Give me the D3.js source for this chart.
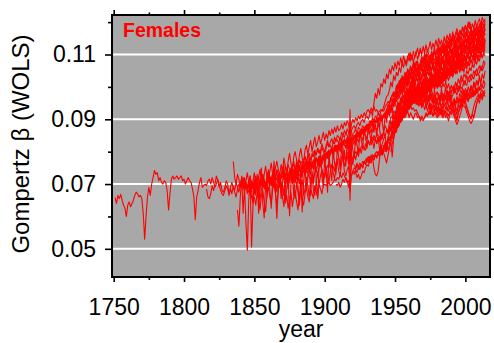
<!DOCTYPE html>
<html>
<head>
<meta charset="utf-8">
<script src="https://cdn.jsdelivr.net/npm/d3@7"></script>
<style>
  body { margin: 0; background: #fff; }
  svg { display: block; font-family: "Liberation Sans", Arial, sans-serif; }
</style>
</head>
<body>
<div id="chart"></div>
<script>
// Gompertz beta x 1000, one value per year starting at the given year
const sweden = [
  65.8, 64.0, 66.5, 65.5, 66.8, 65.0, 63.5, 62.5, 60.0, 63.5,
  64.5, 63.0, 64.0, 65.0, 66.5, 67.5, 67.0, 66.0, 66.5, 65.5,
  61.0, 53.0, 60.0, 66.0, 69.0, 66.5, 70.0, 72.0, 74.2, 73.0,
  73.5, 71.0, 72.0, 70.5, 70.0, 71.0, 70.5, 68.0, 62.0, 67.0,
  71.5, 72.5, 71.5, 72.0, 72.5, 71.5, 72.0, 72.5, 71.0, 71.5,
  70.0, 71.0, 72.0, 71.0, 70.5, 68.5, 66.0, 59.0, 66.0, 68.0,
  70.5, 72.0, 69.0, 69.5, 70.0, 69.5, 71.0, 71.5, 70.0, 72.0,
  70.5, 69.0, 70.0, 71.5, 70.0, 68.0, 67.0, 66.5, 68.0, 69.5,
  68.5, 67.0, 69.0, 70.5, 69.0, 67.5, 66.0, 68.5, 70.0, 69.0,
  70.5, 72.0, 70.0, 68.5, 69.5, 71.0, 70.0, 68.5, 69.0, 71.5,
  70.0, 71.5, 72.5, 69.0, 70.5, 71.0, 68.5, 70.0, 72.0, 71.0,
  72.5, 71.0, 73.0, 74.0, 72.0, 73.5, 71.5, 70.0, 72.5, 74.0,
  73.0, 74.5, 75.0, 73.5, 72.0, 74.0, 75.5, 76.0, 74.5, 75.0,
  76.5, 75.0, 77.0, 76.5, 77.5, 78.5, 77.0, 78.0, 79.5, 77.5,
  78.5, 80.0, 79.5, 79.0, 81.0, 80.5, 79.5, 81.5, 80.0, 79.0,
  81.0, 82.5, 81.5, 82.0, 80.5, 83.0, 82.5, 84.0, 83.5, 82.5,
  84.5, 83.5, 85.0, 84.5, 86.0, 85.0, 84.0, 79.5, 84.0, 85.5,
  86.0, 87.0, 85.5, 87.5, 87.0, 86.5, 88.0, 87.5, 87.0, 88.5,
  88.0, 89.5, 89.0, 90.5, 89.5, 91.0, 90.5, 92.0, 91.0, 92.5,
  93.0, 92.5, 94.0, 94.5, 95.5, 95.0, 96.5, 97.5, 97.0, 98.5,
  98.0, 101.0, 99.5, 102.5, 100.5, 103.0, 101.5, 104.5, 102.0, 105.0,
  103.5, 106.0, 104.0, 107.5, 105.0, 104.5, 107.0, 105.5, 108.5, 106.0,
  107.5, 109.5, 106.5, 108.0, 110.0, 107.5, 109.0, 111.5, 108.5, 110.0,
  112.0, 109.5, 111.0, 113.0, 110.5, 112.5, 111.0, 114.0, 112.0, 113.5,
  115.0, 112.5, 114.5, 113.0, 116.0, 114.0, 115.5, 113.5, 116.5, 115.0,
  117.0, 114.5, 116.0, 118.0, 115.5, 117.5, 116.0, 119.0, 117.0, 118.5,
  120.0, 117.5, 119.5, 118.5
];
const france = [
  68.5, 66.0, 65.5, 67.0, 69.5, 68.0, 70.0, 72.5, 71.0, 69.0,
  70.5, 68.0, 67.5, 69.0, 71.0, 70.0, 66.5, 68.5, 67.0, 69.5,
  68.0, 70.5, 69.0, 67.5, 70.0, 71.5, 69.5, 68.0, 70.5, 69.0,
  67.5, 68.5, 66.0, 64.5, 69.0, 70.5, 69.5, 67.0, 65.5, 68.0,
  70.0, 71.5, 69.0, 68.5, 71.0, 70.0, 72.0, 70.5, 69.5, 68.0,
  70.5, 71.0, 69.0, 70.5, 66.0, 63.0, 69.5, 71.5, 72.5, 71.0,
  72.0, 73.5, 72.5, 71.0, 70.0, 72.5, 73.0, 72.0, 73.5, 74.0,
  73.0, 74.5, 73.5, 72.0, 71.5, 72.5, 71.0, 73.5, 74.5, 73.0,
  75.0, 76.0, 74.5, 73.0, 72.0, 74.5, 75.5, 76.5, 75.0, 76.0,
  75.5, 74.0, 76.5, 77.5, 78.0, 75.5, 78.5, 78.0, 74.0, 72.5,
  74.5, 75.5, 71.0, 76.0, 78.5, 79.0, 80.0, 79.5, 81.0, 80.5,
  81.5, 82.0, 81.0, 80.5, 82.5, 83.0, 82.5, 84.0, 84.5, 83.5,
  84.0, 85.5, 85.0, 84.5, 81.0, 82.5, 84.0, 85.0, 80.5, 84.5,
  86.0, 89.5, 88.0, 91.5, 90.5, 93.0, 92.0, 95.0, 93.5, 96.5,
  95.0, 98.0, 96.5, 99.5, 98.0, 101.0, 99.0, 102.5, 100.5, 103.0,
  101.5, 104.5, 102.0, 103.5, 105.5, 103.0, 106.0, 104.5, 103.5, 106.5,
  105.0, 107.5, 106.0, 104.5, 107.0, 108.5, 106.5, 108.0, 109.5, 107.0,
  109.0, 110.5, 108.0, 110.0, 111.5, 109.5, 111.0, 112.5, 110.0, 112.0,
  113.5, 111.0, 112.5, 114.0, 112.0, 113.5, 115.0, 112.5, 114.5, 116.0,
  113.5, 115.5, 117.0, 114.5, 116.0, 117.5, 115.0, 116.5, 118.0
];
const denmark = [
  77.0, 72.0, 70.0, 73.0, 71.5, 69.0, 72.5, 70.0, 68.0, 71.0,
  73.5, 70.5, 68.5, 71.0, 69.5, 67.0, 70.0, 72.0, 66.0, 69.5,
  71.0, 73.0, 70.5, 68.0, 72.5, 74.0, 71.5, 70.0, 73.5, 69.0,
  72.0, 74.5, 73.0, 70.5, 72.5, 75.0, 73.5, 71.0, 74.0, 76.0,
  74.5, 73.0, 75.5, 77.0, 74.0, 76.5, 75.0, 77.5, 76.0, 74.5,
  77.0, 78.5, 76.5, 79.0, 78.0, 76.0, 79.5, 78.5, 80.5, 79.0,
  81.0, 79.5, 80.0, 82.5, 81.0, 80.0, 82.0, 83.5, 81.5, 83.0,
  84.0, 82.5, 84.5, 83.0, 85.0, 84.5, 83.5, 86.0, 85.0, 86.5,
  85.5, 87.0, 86.0, 82.0, 86.5, 87.5, 88.0, 87.0, 88.5, 89.0,
  88.0, 89.5, 90.0, 89.0, 90.5, 91.0, 90.0, 91.5, 92.5, 91.0,
  95.0, 98.0, 96.5, 99.5, 97.5, 101.0, 100.0, 102.5, 101.0, 104.0,
  102.5, 105.5, 104.0, 106.5, 105.0, 107.5, 105.5, 108.0, 106.5, 109.0,
  107.0, 109.5, 108.0, 106.5, 109.0, 110.5, 108.0, 110.0, 107.5, 109.5,
  111.0, 108.5, 110.0, 112.0, 109.5, 108.0, 110.5, 109.0, 111.5, 110.0,
  108.5, 111.0, 109.5, 112.0, 110.0, 111.5, 113.0, 110.5, 112.5, 111.0,
  113.5, 112.0, 114.5, 113.0, 115.0, 113.5, 116.0, 114.0, 115.5, 117.0,
  115.0, 117.5, 116.0, 118.5, 117.0, 119.0, 117.5, 120.0, 118.0, 119.5
];
const iceland = [
  62.0, 57.0, 66.0, 72.0, 61.0, 69.5, 58.0, 49.6, 65.0, 72.5,
  50.6, 63.0, 70.0, 66.5, 73.0, 61.0, 68.5, 75.0, 64.0, 59.5,
  70.5, 66.0, 74.5, 68.0, 62.5, 71.0, 77.0, 67.5, 59.4, 69.0,
  73.5, 65.5, 70.0, 76.0, 64.5, 68.5, 72.5, 60.2, 70.5, 74.5,
  66.5, 71.5, 77.5, 69.0, 63.5, 73.0, 61.4, 70.5, 75.5, 68.0,
  72.5, 78.0, 66.5, 74.0, 70.0, 79.5, 71.0, 65.5, 75.5, 80.0,
  72.5, 69.0, 77.5, 74.0, 67.5, 79.0, 75.0, 71.0, 80.5, 76.5,
  73.0, 81.5, 78.0, 74.5, 82.0, 77.5, 80.5, 75.5, 83.5, 79.0,
  76.0, 84.0, 80.5, 78.0, 85.5, 82.0, 79.5, 86.0, 83.5, 81.0,
  87.5, 84.0, 82.5, 88.0, 85.5, 83.0, 89.5, 86.0, 88.5, 84.5,
  90.0, 87.5, 91.5, 88.5, 86.0, 92.0, 89.0, 93.5, 91.0, 94.5,
  92.0, 96.5, 94.0, 98.5, 96.0, 99.5, 97.5, 101.0, 98.5, 102.5,
  100.5, 103.5, 101.0, 104.5, 102.0, 100.5, 105.0, 103.0, 106.5, 102.5,
  105.5, 107.0, 103.5, 106.0, 108.5, 104.5, 107.5, 105.0, 109.0, 106.5,
  104.0, 108.5, 107.0, 110.0, 106.0, 109.5, 108.0, 105.5, 110.5, 107.5,
  111.0, 108.0, 106.5, 111.5, 109.0, 112.5, 107.5, 110.5, 113.0, 109.5,
  112.0, 114.5, 110.5, 113.0, 115.5, 111.0, 114.0, 116.5, 112.5, 115.0,
  117.5, 113.5, 116.0, 119.0, 114.5, 117.0, 120.5
];
const england = [
  70.0, 69.5, 71.0, 70.5, 69.0, 70.0, 68.5, 70.5, 69.0, 71.0,
  70.5, 71.5, 70.0, 69.5, 71.0, 72.0, 71.0, 70.0, 71.5, 72.5,
  71.5, 72.0, 71.0, 70.5, 72.0, 71.5, 72.5, 73.0, 72.0, 72.5,
  71.5, 73.0, 73.5, 72.5, 73.0, 74.0, 73.5, 74.5, 75.0, 74.0,
  75.0, 75.5, 74.5, 75.0, 76.0, 75.5, 76.5, 76.0, 77.0, 75.5,
  76.0, 77.0, 76.5, 78.0, 77.5, 78.5, 77.0, 78.0, 79.0, 78.5,
  79.5, 80.0, 79.0, 80.5, 81.0, 80.5, 81.5, 82.0, 81.0, 82.5,
  82.0, 83.0, 83.5, 82.5, 81.0, 83.5, 84.0, 79.0, 83.0, 84.5,
  85.0, 84.0, 85.5, 85.0, 86.0, 86.5, 85.5, 87.0, 86.0, 87.5,
  87.0, 88.0, 88.5, 88.0, 89.0, 89.5, 89.0, 90.0, 90.5, 89.5,
  89.5, 91.5, 90.5, 92.5, 91.5, 94.0, 93.0, 96.0, 95.0, 97.5,
  96.5, 99.0, 98.0, 100.5, 99.0, 102.0, 100.5, 103.0, 101.5, 104.0,
  102.5, 105.0, 103.0, 104.5, 106.0, 104.0, 105.5, 107.0, 105.0, 106.5,
  108.0, 105.5, 107.0, 106.0, 108.5, 107.0, 109.0, 107.5, 106.5, 108.5,
  110.0, 108.0, 109.5, 107.5, 110.5, 109.0, 111.0, 109.5, 112.0, 110.0,
  111.5, 113.0, 110.5, 112.5, 111.0, 113.5, 112.0, 114.0, 112.5, 114.5,
  113.0, 115.0, 113.5, 115.5, 114.0, 116.5, 115.0, 117.0, 115.5, 117.5,
  116.0, 118.0, 116.5, 117.5
];
const belgium = [
  71.0, 68.5, 72.0, 69.5, 67.0, 70.5, 66.5, 69.0, 64.0, 70.0,
  72.5, 70.0, 68.0, 71.5, 69.5, 73.0, 70.5, 68.5, 72.0, 74.0,
  71.0, 69.5, 73.5, 72.0, 70.0, 67.5, 71.5, 73.0, 70.5, 69.0,
  66.5, 72.0, 74.0, 71.5, 73.0, 75.0, 72.5, 70.5, 74.5, 73.0,
  71.5, 75.5, 74.0, 72.0, 76.0, 73.5, 75.0, 77.0, 74.5, 73.0,
  76.5, 75.0, 77.5, 74.0, 76.0, 78.5, 75.5, 77.0, 79.0, 76.0,
  78.0, 80.0, 77.5, 79.5, 81.0, 78.0, 80.5, 82.0, 79.5, 81.5,
  80.0, 82.5, 81.0, 78.0, 77.0, 79.5, 80.0, 76.5, 81.5, 82.0,
  83.5, 82.0, 84.0, 83.0, 85.0, 84.5, 83.5, 86.0, 85.0, 84.0,
  86.5, 85.5, 87.0, 86.0, 88.0, 87.5, 86.5, 88.5, 87.0, 83.5,
  85.0, 86.5, 88.0, 87.0, 86.0, 89.0, 90.5, 91.0, 92.5, 92.0,
  92.5, 95.0, 93.5, 96.5, 95.0, 97.5, 96.0, 99.0, 97.5, 100.0,
  98.5, 101.0, 99.5, 102.0, 100.0, 99.0, 101.5, 103.0, 100.5, 102.5,
  101.0, 103.5, 102.0, 100.5, 103.0, 104.5, 102.5, 101.5, 104.0, 105.5,
  103.0, 104.5, 106.0, 103.5, 105.5, 104.0, 106.5, 105.0, 107.5, 105.5,
  107.0, 108.5, 106.0, 108.0, 109.5, 107.5, 109.0, 107.0, 110.0, 108.5,
  110.5, 109.0, 111.0, 109.5, 112.0, 110.5, 111.5, 113.0, 110.5, 112.5,
  114.0, 111.5, 113.0, 114.5
];
const norway = [
  70.0, 72.5, 68.5, 71.0, 73.5, 70.0, 67.5, 72.0, 74.5, 71.5,
  69.0, 73.0, 75.5, 72.0, 70.5, 74.0, 76.5, 73.0, 71.5, 75.0,
  77.0, 74.5, 72.5, 76.0, 74.0, 78.0, 75.5, 73.5, 77.0, 79.5,
  76.5, 74.0, 78.5, 80.0, 77.5, 75.5, 79.0, 81.0, 78.0, 76.5,
  80.5, 82.0, 79.0, 81.5, 83.5, 80.0, 82.5, 84.5, 81.5, 83.0,
  85.0, 82.5, 84.0, 86.0, 83.5, 85.5, 84.0, 86.5, 85.0, 87.0,
  85.5, 87.5, 86.0, 88.0, 86.5, 87.0, 88.5, 87.0, 89.0, 88.0,
  89.5, 88.5, 85.0, 88.5, 90.0, 89.0, 90.5, 89.5, 91.0, 90.0,
  91.5, 90.5, 92.0, 91.0, 92.5, 93.0, 92.0, 93.5, 92.5, 94.0,
  92.5, 93.0, 92.0, 92.5, 93.0, 92.5, 94.0, 95.5, 97.0, 97.5,
  99.0, 101.5, 100.0, 103.5, 102.0, 104.5, 103.5, 106.0, 104.5, 107.5,
  106.0, 108.5, 107.0, 109.5, 108.0, 110.5, 108.5, 111.0, 109.0, 110.5,
  112.0, 109.5, 111.5, 110.0, 112.5, 110.5, 113.0, 111.0, 112.0, 114.0,
  111.5, 113.5, 112.0, 114.5, 112.5, 115.0, 113.0, 114.5, 112.5, 115.5,
  113.5, 116.0, 114.5, 116.5, 114.0, 117.0, 115.0, 116.5, 118.0, 115.5,
  117.5, 116.0, 118.5, 116.5, 119.0, 117.0, 118.5, 120.0, 117.5, 119.5,
  118.0, 120.5, 118.5, 120.0, 121.0, 119.0, 121.5, 120.0, 121.0
];
const netherlands = [
  66.0, 63.5, 67.5, 65.0, 62.0, 66.5, 68.0, 64.5, 61.5, 67.0,
  69.0, 66.0, 64.0, 68.5, 70.0, 67.0, 63.5, 68.0, 70.5, 67.5,
  70.0, 66.5, 69.5, 72.0, 68.5, 71.0, 73.5, 70.0, 72.5, 74.0,
  71.5, 73.0, 75.0, 72.5, 74.5, 76.0, 73.5, 75.5, 77.0, 74.5,
  76.5, 75.0, 77.5, 76.0, 78.0, 77.0, 75.5, 78.5, 77.5, 79.0,
  78.0, 79.5, 78.5, 80.5, 79.0, 81.0, 80.0, 82.0, 80.5, 81.5,
  82.5, 81.0, 83.0, 82.0, 83.5, 82.5, 84.0, 83.0, 78.5, 83.5,
  84.0, 85.0, 84.5, 86.0, 85.0, 86.5, 85.5, 87.0, 86.5, 88.0,
  87.5, 88.5, 88.0, 89.5, 88.5, 90.0, 89.5, 90.5, 90.0, 91.0,
  91.0, 90.0, 91.5, 92.0, 90.0, 93.5, 95.0, 96.5, 97.5, 98.5,
  97.5, 100.5, 99.0, 102.0, 100.5, 103.5, 101.5, 104.5, 103.0, 105.5,
  104.0, 106.5, 105.0, 107.5, 105.5, 108.0, 106.5, 105.0, 107.5, 109.0,
  107.0, 109.5, 108.0, 110.0, 108.5, 107.5, 110.5, 109.0, 111.0, 109.5,
  108.0, 110.5, 112.0, 109.5, 111.5, 110.0, 112.5, 110.5, 113.0, 111.5,
  113.5, 111.0, 112.5, 114.0, 112.0, 113.5, 115.0, 112.5, 114.5, 113.0,
  115.5, 114.0, 116.0, 114.5, 117.0, 115.0, 116.5, 118.0, 116.0, 117.5,
  116.0, 118.5, 117.0, 119.0, 117.5
];
const scotland = [
  70.0, 71.5, 69.0, 68.5, 71.0, 70.5, 72.0, 69.5, 71.0, 70.0,
  72.5, 71.0, 73.0, 70.5, 72.0, 74.0, 71.5, 73.5, 72.5, 71.0,
  74.0, 72.5, 75.0, 73.5, 74.5, 76.0, 73.0, 75.5, 74.0, 76.5,
  75.0, 77.0, 75.5, 74.5, 77.5, 76.0, 75.0, 77.0, 76.5, 78.0,
  76.5, 78.5, 77.0, 76.0, 78.0, 77.5, 79.0, 78.0, 80.0, 79.0,
  80.5, 79.5, 81.0, 80.0, 82.0, 81.0, 82.5, 81.5, 83.0, 82.0,
  81.5, 83.5, 83.0, 80.0, 82.5, 84.0, 84.5, 83.5, 85.0, 84.5,
  85.5, 85.0, 86.5, 85.5, 87.0, 86.5, 87.5, 87.0, 88.0, 88.5,
  88.0, 89.0, 89.5, 89.0, 90.0, 89.5, 90.5, 91.0, 91.5, 92.0,
  91.5, 93.5, 92.0, 95.0, 94.0, 96.5, 95.5, 98.0, 96.5, 99.5,
  98.0, 100.5, 99.0, 101.5, 100.0, 102.5, 100.5, 103.0, 101.0, 102.5,
  104.0, 101.5, 103.0, 104.5, 102.5, 104.0, 105.5, 103.0, 104.5, 106.0,
  103.5, 105.5, 107.0, 104.5, 106.0, 105.0, 107.5, 105.5, 106.5, 108.0,
  106.0, 108.5, 107.0, 109.0, 107.5, 110.0, 108.0, 109.5, 111.0, 108.5,
  110.5, 109.0, 111.5, 109.5, 112.0, 110.5, 111.0, 113.0, 110.5, 112.5,
  111.5, 113.5, 112.0, 114.0, 112.5, 115.0, 113.0, 114.5, 113.5, 115.0
];
const italy = [
  64.0, 66.5, 62.5, 65.0, 67.5, 63.0, 66.0, 68.0, 64.5, 62.0,
  66.5, 68.5, 65.0, 63.5, 67.0, 69.0, 66.0, 64.5, 68.5, 67.0,
  65.5, 69.5, 67.5, 66.0, 70.0, 68.5, 67.0, 69.5, 70.0, 69.5,
  70.0, 70.5, 69.5, 70.0, 70.5, 71.5, 71.0, 72.0, 71.5, 73.0,
  72.0, 73.5, 72.5, 71.5, 70.5, 71.0, 67.5, 72.5, 74.0, 75.0,
  74.5, 76.0, 75.5, 76.5, 75.5, 77.0, 76.5, 77.5, 78.0, 77.0,
  78.5, 78.0, 79.0, 78.5, 79.5, 80.0, 79.5, 80.5, 79.0, 80.0,
  79.5, 78.0, 76.5, 79.0, 81.0, 83.0, 84.0, 85.5, 86.0, 87.5,
  87.5, 90.0, 89.0, 91.5, 90.5, 93.0, 92.0, 94.5, 93.0, 96.0,
  94.5, 97.0, 95.5, 98.0, 96.5, 99.0, 97.5, 96.5, 99.5, 98.0,
  100.5, 98.5, 101.0, 99.5, 102.0, 100.0, 101.5, 103.0, 100.5, 102.5,
  101.0, 103.5, 102.0, 104.5, 102.5, 105.0, 103.5, 105.5, 104.0, 106.5,
  104.5, 107.0, 105.5, 107.5, 106.0, 108.5, 106.5, 109.0, 107.5, 108.5,
  110.0, 108.0, 110.5, 109.0, 111.0, 109.5, 112.0, 110.5, 112.5, 111.0,
  113.0, 111.5, 113.5
];
const switzerland = [
  72.0, 70.5, 73.5, 71.0, 74.0, 72.5, 70.0, 74.5, 73.0, 75.5,
  72.5, 74.0, 76.5, 73.5, 75.0, 77.0, 74.5, 76.0, 78.0, 75.5,
  77.5, 79.0, 76.5, 78.5, 77.0, 79.5, 78.0, 80.5, 79.0, 81.0,
  79.5, 81.5, 80.5, 82.0, 81.0, 82.5, 83.5, 82.0, 84.0, 83.0,
  84.5, 83.5, 65.0, 82.5, 83.0, 84.5, 85.0, 84.0, 86.0, 85.5,
  86.5, 87.0, 86.0, 87.5, 88.0, 87.0, 88.5, 89.0, 88.0, 89.5,
  89.0, 90.0, 89.5, 90.5, 90.0, 91.0, 91.5, 92.0, 93.0, 94.5,
  94.0, 96.5, 95.5, 98.0, 97.0, 100.0, 99.0, 101.5, 100.5, 103.0,
  102.0, 104.0, 102.5, 105.5, 103.5, 106.0, 104.5, 107.0, 105.0, 106.5,
  108.0, 105.5, 107.5, 109.0, 107.0, 108.5, 110.0, 107.5, 109.5, 108.0,
  110.5, 108.5, 111.0, 109.5, 112.0, 110.0, 111.5, 113.0, 110.5, 112.5,
  111.0, 113.5, 112.0, 114.5, 112.5, 113.5, 115.0, 113.0, 115.5, 114.0,
  116.0, 114.5, 116.5, 115.0, 117.0, 115.5, 117.5, 116.0, 118.0, 116.5,
  118.5, 117.0, 119.0, 117.5, 119.5, 118.0, 120.0, 118.5, 119.5
];
const finland = [
  68.0, 65.5, 70.0, 67.5, 64.0, 69.0, 71.5, 66.5, 68.5, 72.0,
  69.5, 66.0, 70.5, 73.0, 68.0, 66.5, 71.0, 73.5, 70.0, 72.5,
  74.5, 71.0, 73.0, 75.5, 72.5, 70.5, 74.0, 76.0, 73.5, 71.5,
  75.0, 77.0, 74.0, 72.5, 76.5, 78.0, 75.5, 77.5, 79.0, 76.0,
  93.0, 78.0, 76.0, 79.5, 77.5, 80.0, 78.5, 81.0, 79.5, 82.0,
  80.5, 82.5, 81.0, 83.5, 82.0, 84.0, 83.0, 85.0, 84.0, 82.5,
  84.5, 80.5, 82.0, 79.5, 81.5, 83.0, 80.0, 84.0, 86.0, 87.5,
  87.0, 89.5, 88.0, 91.0, 89.5, 92.5, 91.5, 94.0, 92.5, 95.5,
  94.0, 96.5, 95.0, 97.5, 96.0, 98.5, 96.5, 99.0, 97.0, 98.5,
  100.0, 97.5, 99.5, 98.0, 100.5, 99.0, 101.0, 98.5, 100.5, 102.0,
  99.5, 101.5, 103.0, 100.5, 102.5, 101.0, 103.5, 102.0, 104.0, 102.5,
  104.5, 103.0, 105.0, 103.5, 106.0, 104.0, 105.5, 107.0, 104.5, 106.5,
  105.0, 107.5, 106.0, 108.0, 106.5, 109.0, 107.5, 108.5, 110.0, 108.0,
  110.5, 109.0, 111.0, 110.0, 112.0, 110.5, 112.5
];
const spain = [
  70.0, 69.5, 70.5, 69.0, 70.0, 71.5, 70.5, 72.0, 71.0, 69.0,
  71.0, 72.5, 74.0, 73.0, 74.5, 73.5, 75.5, 74.5, 76.0, 75.0,
  77.0, 76.0, 77.5, 78.5, 77.0, 79.0, 78.0, 75.0, 73.0, 72.5,
  74.0, 78.0, 80.5, 79.5, 81.0, 82.5, 81.5, 83.0, 84.5, 84.0,
  85.0, 87.5, 86.0, 89.0, 88.0, 91.0, 89.5, 92.5, 91.0, 94.0,
  93.0, 95.5, 94.0, 97.0, 95.5, 98.0, 96.5, 99.5, 97.5, 100.0,
  98.5, 101.0, 99.5, 102.0, 100.0, 102.5, 101.0, 103.5, 102.0, 104.0,
  102.5, 105.0, 103.5, 105.5, 104.0, 106.5, 105.0, 107.0, 105.5, 108.0,
  106.5, 108.5, 107.0, 109.5, 108.0, 110.0, 108.5, 111.0, 109.5, 111.5,
  110.0, 112.5, 111.0, 113.0, 111.5, 114.0, 112.5, 114.5, 113.0, 115.5,
  114.0, 116.0, 114.5, 116.5, 115.0, 117.0, 116.0
];
const australia = [
  74.0, 73.5, 72.0, 73.0, 71.5, 72.5, 74.0, 73.5, 75.0, 76.0,
  75.5, 77.0, 76.5, 78.0, 77.5, 79.0, 78.5, 80.0, 79.5, 81.0,
  80.5, 82.0, 81.5, 83.0, 84.0, 83.5, 85.0, 86.5, 87.0, 88.5,
  88.0, 90.5, 89.0, 92.0, 90.5, 93.5, 92.0, 94.5, 93.0, 95.5,
  94.0, 96.5, 95.0, 97.5, 95.5, 98.0, 96.5, 95.5, 98.5, 97.0,
  99.5, 97.5, 100.0, 98.5, 101.0, 99.0, 101.5, 100.0, 102.5, 100.5,
  103.0, 101.5, 104.0, 102.0, 104.5, 103.0, 105.5, 103.5, 105.0, 106.5,
  104.5, 106.0, 107.5, 105.5, 107.0, 108.5, 106.5, 108.0, 109.5, 107.5,
  109.0, 110.5, 108.5, 110.0, 111.5, 109.5, 111.0, 112.5, 110.5, 112.0,
  113.0, 111.0, 112.5, 114.0
];
const canada = [
  76.0, 75.0, 76.5, 74.5, 75.5, 76.0, 75.0, 77.0, 76.5, 77.5,
  76.5, 78.0, 77.0, 78.5, 77.5, 79.0, 78.0, 79.5, 78.5, 80.0,
  79.0, 80.5, 80.0, 81.5, 80.5, 82.0, 83.0, 78.4, 84.0, 86.0,
  86.5, 89.0, 88.0, 90.5, 89.5, 92.5, 91.0, 93.5, 92.5, 95.0,
  93.5, 96.5, 95.0, 97.0, 95.5, 98.0, 96.0, 98.5, 96.5, 99.0,
  97.5, 99.5, 98.0, 100.5, 98.5, 100.0, 101.5, 99.0, 101.0, 99.5,
  102.0, 100.0, 102.5, 101.0, 103.0, 101.5, 104.0, 102.0, 103.5, 105.0,
  103.0, 104.5, 106.0, 104.0, 105.5, 107.0, 105.0, 106.5, 104.5, 107.5,
  105.5, 108.0, 106.5, 108.5, 107.0, 109.0, 107.5, 110.0, 108.0, 109.5,
  111.0, 109.0, 110.5, 111.5
];
const portugal = [
  80.0, 79.0, 81.5, 80.5, 82.0, 83.0, 82.5, 84.0, 85.5, 86.0,
  86.0, 89.0, 87.5, 90.5, 89.0, 92.0, 90.5, 93.5, 92.0, 95.0,
  93.5, 96.5, 95.0, 98.0, 96.0, 99.0, 97.5, 100.5, 98.5, 101.0,
  99.5, 102.0, 100.0, 99.0, 101.5, 103.0, 100.5, 102.5, 104.0, 101.5,
  103.0, 105.0, 102.5, 104.5, 103.0, 105.5, 104.0, 106.0, 104.5, 107.0,
  105.0, 107.5, 106.0, 108.0, 106.5, 109.0, 107.0, 109.5, 108.0, 110.0,
  108.5, 111.0, 109.5, 111.5, 110.0, 112.5, 111.0, 113.0, 111.5, 114.0,
  112.5, 114.5, 113.0, 115.5, 114.0
];
const usa = [
  82.0, 83.5, 81.0, 84.0, 82.5, 84.5, 83.0, 85.5, 84.0, 86.0,
  84.5, 87.0, 85.5, 88.0, 86.5, 89.0, 87.5, 90.0, 88.5, 90.5,
  89.0, 91.5, 90.0, 92.0, 90.5, 91.5, 92.5, 90.5, 92.0, 91.0,
  90.0, 91.5, 92.0, 90.5, 91.0, 89.5, 91.0, 90.0, 90.5, 92.0,
  91.0, 92.5, 91.5, 93.0, 91.0, 92.5, 91.5, 90.5, 92.0, 93.5,
  91.5, 93.0, 92.0, 94.0, 92.5, 94.5, 93.0, 95.0, 93.5, 95.5,
  94.0, 96.0, 94.5, 96.5, 95.0, 97.0, 96.0, 97.5, 96.5, 98.0,
  96.5, 98.5, 97.5, 99.0, 97.5, 99.5, 98.5, 100.0, 99.0, 100.5,
  99.5, 101.0
];
const japan = [
  80.0, 82.5, 84.0, 86.5, 86.0, 89.0, 89.5, 92.0, 91.5, 94.0,
  93.5, 96.0, 95.0, 97.5, 96.5, 99.0, 97.5, 100.0, 98.5, 100.5,
  99.5, 101.5, 100.0, 102.0, 100.5, 102.5, 101.0, 102.0, 100.5, 102.5,
  101.0, 102.5, 100.5, 102.0, 100.0, 101.5, 99.5, 101.0, 100.0, 101.5,
  99.5, 101.0, 99.0, 100.5, 99.0, 100.5, 98.5, 100.0, 98.5, 99.5,
  98.0, 99.5, 98.5, 97.5, 99.0, 97.5, 99.0, 98.0, 97.0, 98.5,
  97.5, 99.0, 98.0, 97.0, 98.5, 99.0, 97.5, 98.5
];
const austria = [
  86.0, 88.0, 91.0, 90.0, 92.5, 95.0, 94.0, 96.5, 97.0, 99.5,
  98.0, 99.0, 101.5, 100.5, 99.5, 102.0, 103.5, 101.0, 102.5, 104.0,
  103.0, 101.5, 103.5, 104.5, 102.0, 103.0, 105.5, 104.0, 103.5, 105.0,
  106.5, 104.5, 105.5, 107.0, 106.0, 105.0, 107.5, 108.0, 106.0, 107.0,
  109.0, 107.5, 108.0, 110.0, 109.0, 108.0, 110.5, 111.5, 109.5, 110.0,
  112.0, 110.5, 111.0, 113.0, 112.5, 111.0, 112.0, 114.0, 113.0, 112.0,
  114.5, 115.0, 113.0, 114.0, 116.0, 114.5, 115.5, 116.5
];
const westGermany = [
  100.0, 101.5, 103.0, 101.0, 102.0, 104.0, 103.5, 102.5, 104.5, 105.5,
  103.5, 104.0, 106.0, 105.0, 104.0, 106.5, 107.0, 105.5, 106.0, 108.0,
  107.5, 106.5, 108.5, 109.0, 107.0, 108.0, 110.0, 109.5, 108.5, 110.5,
  111.0, 109.5, 110.0, 112.0, 111.5, 110.0, 111.0, 113.0, 112.5, 111.5,
  113.5, 114.0, 112.5, 113.0, 115.0, 114.5, 113.5, 115.5, 116.5, 114.5,
  115.0, 117.0, 116.0, 115.5, 117.5, 118.0, 116.5, 117.0
];
const ireland = [
  88.0, 90.5, 89.0, 91.0, 93.5, 92.0, 94.0, 96.5, 95.0, 96.0,
  98.5, 97.0, 96.5, 99.0, 100.0, 97.5, 98.5, 100.5, 99.0, 98.0,
  100.5, 101.5, 99.5, 100.0, 102.5, 101.0, 99.5, 101.5, 103.0, 100.5,
  101.0, 103.5, 102.5, 101.5, 104.0, 104.5, 102.5, 103.5, 105.5, 104.0,
  103.5, 106.0, 105.0, 104.5, 107.0, 106.5, 105.0, 106.0, 108.5, 107.0,
  106.5, 109.0, 110.0, 108.0, 109.5, 111.5, 110.0, 109.0, 111.5, 112.5,
  111.0, 112.0, 114.0, 113.0, 114.5
];
const newZealand = [
  90.0, 92.5, 89.5, 93.0, 95.5, 92.5, 94.0, 97.0, 94.5, 96.0,
  98.5, 95.5, 97.0, 99.5, 96.5, 98.0, 100.5, 97.5, 99.0, 101.5,
  98.5, 100.0, 102.5, 99.0, 101.0, 103.0, 100.0, 101.5, 104.0, 101.0,
  102.5, 105.0, 102.0, 103.5, 106.0, 103.0, 104.5, 107.0, 104.0, 105.5,
  108.0, 105.0, 106.5, 109.0, 106.0, 107.5, 110.0, 107.0, 108.5, 111.0,
  108.0, 109.5, 112.0, 109.0, 110.5, 113.0, 110.0, 111.5, 114.0, 111.0,
  112.5, 115.0, 112.0, 113.5, 116.0, 113.0
];
const bulgaria = [
  84.0, 86.5, 85.5, 89.0, 88.0, 91.5, 91.0, 93.5, 93.0, 95.5,
  94.5, 97.0, 95.5, 98.0, 96.5, 99.0, 97.0, 99.5, 97.5, 99.0,
  97.0, 98.5, 96.5, 98.0, 96.0, 97.5, 95.5, 97.5, 96.0, 97.0,
  95.0, 96.5, 94.5, 96.0, 94.0, 95.5, 93.5, 95.5, 94.0, 95.0,
  96.0, 94.5, 93.5, 95.5, 94.0, 96.5, 95.0, 97.0, 95.5, 98.0,
  96.5, 98.5, 97.0, 99.5, 98.0, 100.0, 98.5, 100.5, 99.0, 101.5,
  100.0, 102.0, 100.5, 102.5
];
const hungary = [
  86.0, 88.5, 87.5, 90.5, 89.5, 92.0, 91.0, 93.5, 92.5, 95.0,
  93.5, 96.0, 94.5, 96.5, 95.0, 97.0, 95.5, 96.5, 94.5, 96.5,
  95.0, 96.0, 94.0, 95.5, 93.5, 95.0, 93.0, 94.5, 92.5, 94.0,
  92.0, 93.5, 91.5, 93.0, 91.0, 92.5, 90.5, 92.0, 91.0, 92.5,
  91.5, 93.0, 92.0, 94.0, 92.5, 94.5, 93.5, 95.5, 94.0, 96.0,
  95.0, 97.0, 95.5, 97.5, 96.5, 98.5, 97.0, 99.0, 98.0, 100.0,
  99.0, 101.0, 100.0, 102.0, 101.0
];
const czechia = [
  90.0, 92.5, 91.5, 94.5, 93.5, 96.0, 95.0, 97.5, 96.5, 98.5,
  97.0, 99.0, 97.5, 99.5, 98.0, 99.0, 97.0, 98.5, 96.5, 98.0,
  96.5, 98.0, 96.0, 97.5, 95.5, 97.0, 95.5, 96.5, 95.0, 96.5,
  95.5, 97.0, 96.0, 97.5, 96.0, 98.0, 96.5, 98.5, 97.0, 99.0,
  98.0, 100.0, 99.0, 101.5, 100.0, 102.5, 101.0, 103.5, 102.0, 104.0,
  103.0, 105.0, 104.0, 106.0, 105.0, 107.0, 106.0, 108.0, 107.0, 109.0,
  108.0, 110.0, 109.0, 110.5, 109.5
];
const slovakia = [
  90.0, 91.5, 94.0, 93.0, 94.5, 96.5, 95.0, 96.0, 98.5, 97.0,
  97.5, 99.5, 98.0, 97.0, 99.0, 100.0, 98.0, 97.5, 99.5, 98.5,
  97.0, 98.5, 99.5, 97.5, 96.5, 98.0, 99.0, 97.0, 96.0, 97.5,
  98.5, 96.5, 95.5, 97.5, 98.0, 96.0, 97.0, 99.0, 97.5, 96.5,
  98.5, 99.5, 98.0, 99.0, 101.0, 100.0, 99.5, 101.5, 102.5, 100.5,
  101.5, 103.5, 102.0, 101.5, 104.0, 103.0, 102.5, 104.5, 105.5, 103.5,
  104.5, 106.5, 105.0, 106.0, 107.5
];
const poland = [
  96.0, 97.5, 96.5, 98.5, 99.0, 97.0, 98.0, 99.5, 98.5, 97.5,
  99.0, 98.0, 97.0, 98.5, 99.0, 97.5, 96.5, 98.0, 97.0, 96.0,
  97.5, 96.5, 95.5, 97.0, 97.5, 96.0, 95.5, 97.5, 96.5, 95.5,
  97.0, 98.0, 96.5, 97.5, 99.0, 98.5, 97.5, 99.5, 100.5, 99.5,
  100.0, 102.0, 101.0, 100.5, 102.5, 103.5, 102.0, 103.0, 105.0, 104.0,
  103.5, 105.5, 106.5, 105.0, 106.0, 108.0, 107.5
];
const russia = [
  94.0, 93.5, 94.5, 93.0, 93.5, 92.5, 93.0, 92.0, 91.0, 90.5,
  90.0, 89.6, 90.5, 91.5, 91.0, 92.0, 91.5, 92.0, 91.0, 91.5,
  92.0, 91.5, 91.0, 92.0, 91.5, 90.5, 91.5, 92.5, 91.0, 89.5,
  91.5, 93.0, 92.0, 91.0, 89.5, 88.4, 89.5, 91.0, 92.5, 94.3,
  94.0, 93.5, 92.0, 91.0, 89.5, 88.7, 89.5, 91.0, 93.0, 95.0,
  96.0, 97.0, 97.5, 98.0, 98.5, 99.0
];
const ukraine = [
  96.0, 97.5, 95.5, 97.0, 95.0, 96.5, 94.5, 96.0, 94.0, 95.5,
  93.5, 95.0, 93.0, 94.5, 92.5, 94.0, 92.0, 94.0, 93.0, 92.0,
  93.5, 92.0, 94.0, 92.5, 91.5, 93.0, 94.5, 95.0, 93.5, 92.5,
  94.0, 93.0, 94.5, 92.5, 91.5, 90.0, 92.0, 93.0, 95.0, 96.0,
  95.5, 94.0, 93.5, 92.0, 91.0, 90.5, 92.0, 94.0, 95.5, 96.5,
  97.5, 96.5, 98.0, 97.0, 98.5
];
const lithuania = [
  95.0, 97.5, 94.5, 96.5, 98.0, 95.0, 97.0, 94.5, 96.0, 97.5,
  94.0, 95.5, 97.0, 93.5, 95.0, 96.5, 93.0, 94.5, 96.0, 93.5,
  95.0, 93.0, 94.5, 96.0, 92.5, 94.0, 95.5, 97.0, 94.5, 96.0,
  97.5, 95.0, 93.5, 92.0, 90.5, 89.5, 92.0, 94.0, 96.5, 95.0,
  97.0, 95.5, 94.0, 92.5, 91.0, 90.0, 91.5, 90.5, 92.5, 94.5,
  96.5, 95.0, 97.5, 96.0, 98.0, 97.0
];
const estonia = [
  98.0, 95.5, 99.5, 97.0, 100.5, 96.5, 98.5, 101.0, 97.5, 99.0,
  96.0, 99.5, 97.5, 95.0, 98.5, 100.0, 96.5, 98.0, 95.5, 99.0,
  97.0, 94.5, 98.0, 96.0, 99.5, 95.5, 97.5, 100.0, 96.0, 98.5,
  95.0, 97.5, 94.0, 96.0, 92.5, 91.5, 94.5, 96.5, 93.5, 97.0,
  99.0, 96.0, 98.5, 95.5, 97.5, 100.0, 98.0, 101.5, 99.0, 102.0,
  100.5, 103.5, 101.0, 104.0, 102.5, 105.0
];

const seriesList = [
  { start: 1751, values: sweden },
  { start: 1816, values: france },
  { start: 1835, values: denmark },
  { start: 1838, values: iceland },
  { start: 1841, values: england },
  { start: 1841, values: belgium },
  { start: 1846, values: norway },
  { start: 1850, values: netherlands },
  { start: 1855, values: scotland },
  { start: 1872, values: italy },
  { start: 1876, values: switzerland },
  { start: 1878, values: finland },
  { start: 1908, values: spain },
  { start: 1921, values: australia },
  { start: 1921, values: canada },
  { start: 1940, values: portugal },
  { start: 1933, values: usa },
  { start: 1947, values: japan },
  { start: 1947, values: austria },
  { start: 1956, values: westGermany },
  { start: 1950, values: ireland },
  { start: 1948, values: newZealand },
  { start: 1947, values: bulgaria },
  { start: 1950, values: hungary },
  { start: 1950, values: czechia },
  { start: 1950, values: slovakia },
  { start: 1958, values: poland },
  { start: 1959, values: russia },
  { start: 1959, values: ukraine },
  { start: 1959, values: lithuania },
  { start: 1959, values: estonia }
];

const yMajor = [0.05, 0.07, 0.09, 0.11];
const yMinor = [0.06, 0.08, 0.10, 0.12];
const xMajor = [1750, 1800, 1850, 1900, 1950, 2000];
const xMinor = [1775, 1825, 1875, 1925, 1975];

const W = 494, H = 343;
const pL = 112, pR = 490, pT = 15, pB = 277;

const svg = d3.select("#chart")
  .append("svg")
  .attr("width", W)
  .attr("height", H);

const x = d3.scaleLinear().domain([1748.8, 2017.5]).range([pL, pR]);
const y = d3.scaleLinear().domain([0.0413, 0.1222]).range([pB, pT]);

svg.append("rect")
  .attr("x", pL).attr("y", pT)
  .attr("width", pR - pL).attr("height", pB - pT)
  .attr("fill", "#a8a8a8");

svg.append("g")
  .selectAll("line")
  .data(yMajor)
  .enter()
  .append("line")
  .attr("x1", pL).attr("x2", pR)
  .attr("y1", d => y(d)).attr("y2", d => y(d))
  .attr("stroke", "#fff")
  .attr("stroke-width", 2);

svg.append("clipPath").attr("id", "plot")
  .append("rect")
  .attr("x", pL).attr("y", pT)
  .attr("width", pR - pL).attr("height", pB - pT);

const line = d3.line()
  .x(d => x(d.year))
  .y(d => y(d.v / 1000));

svg.append("g")
  .attr("clip-path", "url(#plot)")
  .selectAll("path")
  .data(seriesList)
  .enter()
  .append("path")
  .attr("d", s => line(s.values.map((v, i) => ({ year: s.start + i, v: v }))))
  .attr("fill", "none")
  .attr("stroke", "#ff0000")
  .attr("stroke-width", 1.1)
  .attr("stroke-linejoin", "round");

svg.append("rect")
  .attr("x", pL).attr("y", pT)
  .attr("width", pR - pL).attr("height", pB - pT)
  .attr("fill", "none")
  .attr("stroke", "#000")
  .attr("stroke-width", 2);

function styleAxis(g) {
  g.select(".domain").remove();
  g.selectAll(".tick line").attr("stroke", "#000").attr("stroke-width", 1.6);
  g.selectAll("text").attr("font-size", 23).attr("fill", "#000")
    .attr("font-family", "'Liberation Sans', Arial, sans-serif");
}

// left axis
svg.append("g").attr("transform", `translate(${pL},0)`)
  .call(d3.axisLeft(y).tickValues(yMajor).tickSize(7).tickPadding(9).tickFormat(d3.format(".2f")))
  .call(styleAxis);
svg.append("g").attr("transform", `translate(${pL},0)`)
  .call(d3.axisLeft(y).tickValues(yMinor).tickSize(4).tickFormat(""))
  .call(styleAxis);
// right axis
svg.append("g").attr("transform", `translate(${pR},0)`)
  .call(d3.axisRight(y).tickValues(yMajor).tickSize(4).tickFormat(""))
  .call(styleAxis);
svg.append("g").attr("transform", `translate(${pR},0)`)
  .call(d3.axisRight(y).tickValues(yMinor).tickSize(2.5).tickFormat(""))
  .call(styleAxis);
// bottom axis
svg.append("g").attr("transform", `translate(0,${pB})`)
  .call(d3.axisBottom(x).tickValues(xMajor).tickSize(5).tickPadding(17).tickFormat(d3.format("d")))
  .call(styleAxis);
svg.append("g").attr("transform", `translate(0,${pB})`)
  .call(d3.axisBottom(x).tickValues(xMinor).tickSize(3).tickFormat(""))
  .call(styleAxis);
// top axis
svg.append("g").attr("transform", `translate(0,${pT})`)
  .call(d3.axisTop(x).tickValues(xMajor).tickSize(5).tickFormat(""))
  .call(styleAxis);
svg.append("g").attr("transform", `translate(0,${pT})`)
  .call(d3.axisTop(x).tickValues(xMinor).tickSize(2.5).tickFormat(""))
  .call(styleAxis);

svg.append("text")
  .attr("x", (pL + pR) / 2)
  .attr("y", 337)
  .attr("text-anchor", "middle")
  .attr("font-size", 23)
  .text("year");

svg.append("text")
  .attr("transform", `translate(29,${(pT + pB) / 2 - 2}) rotate(-90)`)
  .attr("text-anchor", "middle")
  .attr("font-size", 24)
  .text("Gompertz β (WOLS)");

svg.append("text")
  .attr("x", 123)
  .attr("y", 37)
  .attr("font-size", 19.5)
  .attr("font-weight", "bold")
  .attr("fill", "#ff0000")
  .text("Females");
</script>
</body>
</html>
